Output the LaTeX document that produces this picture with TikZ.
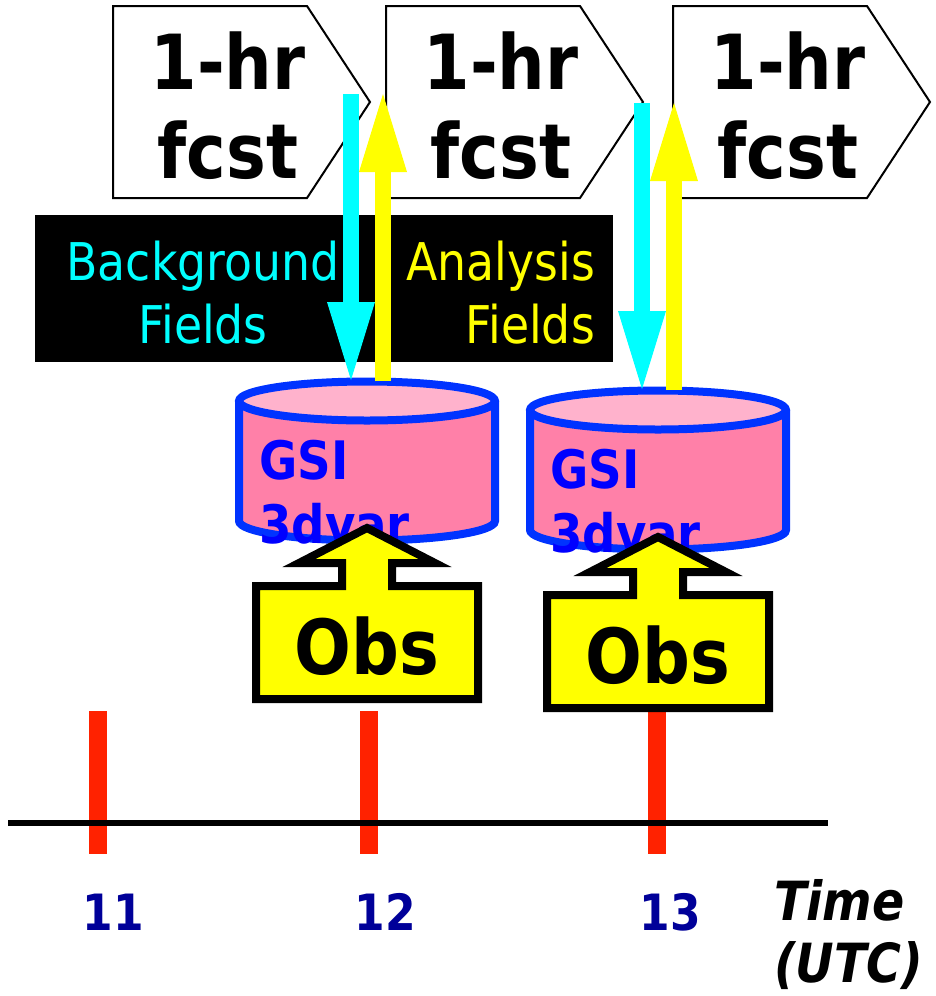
\documentclass[tikz,border=0pt]{standalone}
\usepackage{fontspec}
\setmainfont{DejaVu Sans}[FakeStretch=0.88]
\definecolor{dbbody}{RGB}{255,128,168}
\definecolor{dbtop}{RGB}{255,178,204}
\definecolor{dbedge}{RGB}{0,51,255}
\definecolor{tickred}{RGB}{255,34,0}
\definecolor{hournavy}{RGB}{0,0,153}
\definecolor{gsiblue}{RGB}{0,0,255}
\definecolor{bgcyan}{RGB}{0,255,255}
\definecolor{anyellow}{RGB}{255,255,0}
\tikzset{
  fcstbox/.style={draw=black,fill=white,line width=2pt,line join=miter},
  fcsttext/.style={inner sep=0pt,align=center,font=\fontsize{76}{89}\selectfont\bfseries},
  fieldtext/.style={inner sep=0pt,font=\fontsize{52}{63}\selectfont},
  bgflow/.style={draw=bgcyan,line width=16pt},
  anflow/.style={draw=anyellow,line width=16pt},
  dbline/.style={draw=dbedge,line width=8pt},
  obsbox/.style={draw=black,fill=anyellow,line width=8pt,line join=miter},
  hourtick/.style={draw=tickred,line width=18pt},
  hourtext/.style={inner sep=0pt,text=hournavy,font=\fontsize{50}{60}\selectfont\bfseries}
}

\begin{document}
\begin{tikzpicture}[x=1pt,y=-1pt]
\useasboundingbox (0,0) rectangle (936,996);
%forecast boxes
\foreach \fx/\n in {113/1,386/2,673/3}{
  \draw[fcstbox] (\fx,6) -- (\fx+194,6) -- (\fx+257,102) -- (\fx+194,198) -- (\fx,198) -- cycle;
  \node[fcsttext] (f\n) at (\fx+115,106) {1-hr\\fcst};
}
%labels
\fill[black] (35,215) rectangle (613,362);
\node[fieldtext,text=bgcyan,align=center] (bgtext) at (203,293) {Background\\Fields};
\node[fieldtext,text=anyellow,align=right,anchor=east] (antext) at (595,293) {Analysis\\Fields};
%time axis
\foreach \tx in {98,369,657}
  \draw[hourtick] (\tx,711) -- (\tx,854);
\draw[line width=6pt] (8,823) -- (828,823);
\node[hourtext] (h11) at (113,912) {11};
\node[hourtext] (h12) at (385,912) {12};
\node[hourtext] (h13) at (670,912) {13};
\node[inner sep=0pt,anchor=north west,align=left,font=\fontsize{54}{62}\selectfont\bfseries\itshape] (utc) at (774,879) {Time\\(UTC)};
%analysis cycles
\foreach \cx/\cy/\n in {367/401/1,658/410/2}{
  \begin{scope}[shift={(\cx,\cy)}]
    \fill[dbbody] (-128,0) -- (-128,120) arc[start angle=180,end angle=0,x radius=128,y radius=19.5] -- (128,0) -- cycle;
    \draw[dbline,fill=dbtop] (0,0) ellipse [x radius=128,y radius=19.5];
    \draw[dbline] (-128,0) -- (-128,120) arc[start angle=180,end angle=0,x radius=128,y radius=19.5] -- (128,0);
    \node[inner sep=0pt,anchor=north west,align=left,text=gsiblue,font=\fontsize{53}{64}\selectfont\bfseries] (gsi\n) at (-108,39) {GSI\\3dvar};
    \coordinate (bg\n top) at (-16,-307);
    \coordinate (bg\n base) at (-16,-99);
    \coordinate (bg\n tip) at (-16,-21);
    \coordinate (an\n tail) at (16,-20);
    \coordinate (an\n base) at (16,-229);
    \coordinate (an\n tip) at (16,-307);
    \draw[bgflow] (bg\n top) -- (bg\n base);
    \fill[bgcyan] (-40,-99) -- (bg\n tip) -- (8,-99) -- cycle;
    \draw[anflow] (an\n tail) -- (an\n base);
    \fill[anyellow] (-8,-229) -- (an\n tip) -- (40,-229) -- cycle;
    \draw[obsbox] (-111,185) -- (-25,185) -- (-25,162) -- (-68,162) -- (0,127) -- (68,162) -- (25,162) -- (25,185) -- (111,185) -- (111,298) -- (-111,298) -- cycle;
    \node[inner sep=0pt,font=\fontsize{76}{89}\selectfont\bfseries] (obs\n) at (0,245) {Obs};
  \end{scope}
}
\end{tikzpicture}
\end{document}
